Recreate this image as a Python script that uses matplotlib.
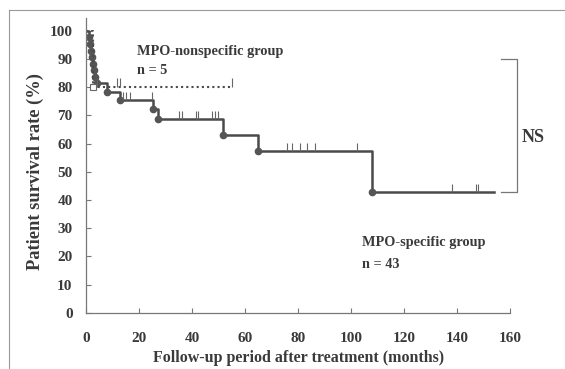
import matplotlib
matplotlib.use('Agg')
import matplotlib.pyplot as plt
from matplotlib.lines import Line2D

# MPO-specific group (n = 43): event times (months) and survival (%)
spec_t = [0, 1.0, 1.4, 1.8, 2.2, 2.6, 3.0, 3.4, 3.8, 7.9, 12.6, 25.2, 27.0, 51.6, 64.8, 107.9]
spec_s = [100, 97.7, 95.3, 93.0, 90.7, 88.4, 86.0, 83.7, 81.4, 78.4, 75.4, 72.3, 68.8, 63.1, 57.5, 43.0]
spec_end = 153.8
spec_cens = [13.8, 15.0, 16.3, 24.7,
             34.8, 36.2, 41.2, 42.1, 47.5, 48.6, 49.7,
             75.6, 77.6, 80.6, 83.4, 86.4, 102.0,
             137.9, 147.0, 147.9]

# MPO-nonspecific group (n = 5)
non_t = [0, 2.4]
non_s = [100, 80]
non_end = 55
non_cens = [3.9, 11.5, 12.6, 55]

xticks = [0, 20, 40, 60, 80, 100, 120, 140, 160]
yticks = [0, 10, 20, 30, 40, 50, 60, 70, 80, 90, 100]

ink = '#3a3a3a'
line_c = '#4a4a4a'
font = dict(family='Liberation Serif', weight='bold', color=ink)


def surv_at(times, surv, t):
    s = surv[0]
    for ti, si in zip(times, surv):
        if ti <= t:
            s = si
    return s


fig = plt.figure(figsize=(5.65, 3.69), dpi=100)
ax = fig.add_axes([0.153, 0.152, 0.750, 0.799])

# solid curve
ax.step(spec_t + [spec_end], spec_s + [spec_s[-1]], where='post', color=line_c, lw=1.8)
ax.plot(spec_t[1:], spec_s[1:], 'o', color='#555555', ms=4.5)
for c in spec_cens:
    lv = surv_at(spec_t, spec_s, c)
    ax.vlines(c, lv, lv + 2.8, color='#666666', lw=0.8)

# dotted curve
ax.step(non_t + [non_end], non_s + [non_s[-1]], where='post', color=line_c, lw=1.5, ls=(0, (1, 1.5)))
ax.plot(non_t[1:], non_s[1:], 's', mfc='white', mec='#666666', ms=4.5, mew=0.8)
for c in non_cens:
    lv = surv_at(non_t, non_s, c)
    ax.vlines(c, lv, lv + 3.2, color='#666666', lw=0.8)

# NS bracket
ax.plot([156.5, 162.5, 162.5, 156.5], [90, 90, 43, 43], color='#777777', lw=0.9, clip_on=False)
ax.text(164.3, 62, 'NS', fontsize=13, va='center', ha='left', **font)

ax.text(19, 92.6, 'MPO-nonspecific group', fontsize=10.3, va='center', **font)
ax.text(19, 85.8, 'n = 5', fontsize=10.3, va='center', **font)
ax.text(104, 24.8, 'MPO-specific group', fontsize=10.3, va='center', **font)
ax.text(104, 17.0, 'n = 43', fontsize=10.3, va='center', **font)

ax.set_xlim(0, 160)
ax.set_ylim(0, 104.5)
ax.set_xticks(xticks)
ax.set_yticks(yticks)
ax.set_xticklabels([str(v) for v in xticks], **font)
ax.set_yticklabels([str(v) for v in yticks], **font)
ax.tick_params(direction='in', length=3.5, width=0.8, color='#777777', labelsize=11)
ax.tick_params(axis='x', pad=14)
ax.tick_params(axis='y', pad=10)

for side in ['top', 'right']:
    ax.spines[side].set_visible(False)
for side in ['left', 'bottom']:
    ax.spines[side].set_color('#777777')
    ax.spines[side].set_linewidth(0.9)

ax.set_xlabel('Follow-up period after treatment (months)', fontsize=11.5, labelpad=3, **font)
ax.set_ylabel('Patient survival rate (%)', fontsize=13.3, **font)
ax.yaxis.set_label_coords(-0.10, 0.48)

# scan frame edges
fig.add_artist(Line2D([9 / 565, 9 / 565], [0, 1 - 10 / 369], color='#999999', lw=0.8))
fig.add_artist(Line2D([9 / 565, 1], [1 - 10 / 369, 1 - 10 / 369], color='#999999', lw=0.8))

fig.savefig('out.png', dpi=100)
